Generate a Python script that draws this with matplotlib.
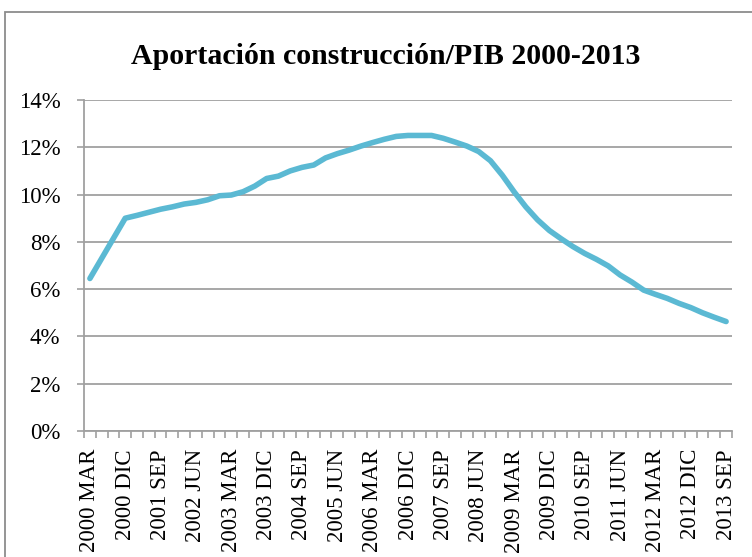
import matplotlib
matplotlib.use("Agg")
import matplotlib.pyplot as plt
from matplotlib.patches import Rectangle
from matplotlib.ticker import FixedLocator, FuncFormatter

quarters = ["MAR", "JUN", "SEP", "DIC"]
categories = [f"{y} {q}" for y in range(2000, 2014) for q in quarters][:55]

values = [6.45, 7.3, 8.15, 9.0, 9.12, 9.25, 9.38, 9.48, 9.6, 9.67, 9.78, 9.95,
          9.98, 10.12, 10.36, 10.68, 10.78, 11.0, 11.15, 11.25, 11.55, 11.73,
          11.88, 12.05, 12.2, 12.34, 12.46, 12.5, 12.5, 12.5, 12.38, 12.22,
          12.05, 11.82, 11.43, 10.82, 10.12, 9.48, 8.93, 8.48, 8.13, 7.8, 7.51,
          7.26, 6.98, 6.6, 6.3, 5.96, 5.78, 5.61, 5.4, 5.22, 5.0, 4.81, 4.63]

title = "Aportación construcción/PIB 2000-2013"
yticks = [0, 2, 4, 6, 8, 10, 12, 14]

plt.rcParams['font.family'] = ['Liberation Serif', 'DejaVu Serif']

fig = plt.figure(figsize=(7.52, 5.57), dpi=100)
fig.patches.append(Rectangle((5/752, -0.1), 2, 1.1 - 12/557,
                             transform=fig.transFigure, fill=False,
                             edgecolor="#8c8c8c", linewidth=1.3))
ax = fig.add_axes([84/752, (557-431)/557, (732-84)/752, (431-100)/557])

x = list(range(len(values)))
ax.plot(x, values, color="#5BB9D3", linewidth=4.0, solid_capstyle="round",
        solid_joinstyle="round", zorder=3)

ax.set_xlim(-0.5, len(values) - 0.5)
ax.set_ylim(0, 14)
ax.set_yticks(yticks)
ax.yaxis.set_major_formatter(FuncFormatter(lambda v, p: f"{int(v)}%"))
ax.grid(axis="y", color="#a0a0a0", linewidth=1.3)
ax.set_axisbelow(True)

label_idx = list(range(0, len(values), 3))
ax.set_xticks(label_idx)
ax.set_xticklabels([categories[i] for i in label_idx], rotation=90, va="top", ha="center")
ax.xaxis.set_minor_locator(FixedLocator([i - 0.5 for i in range(len(values) + 1)]))
ax.tick_params(axis="x", which="major", length=0, pad=13, labelsize=16.5)
ax.tick_params(axis="x", which="minor", length=5, width=1.2, color="#a0a0a0")
ax.tick_params(axis="y", which="major", length=5, width=1.2, color="#a0a0a0",
               pad=12, labelsize=16.5)

for s in ["top", "right"]:
    ax.spines[s].set_visible(False)
for s in ["left", "bottom"]:
    ax.spines[s].set_color("#a0a0a0")
    ax.spines[s].set_linewidth(1.3)

fig.text(386/752, 1 - 57/557, title, ha="center", va="center",
         fontsize=21.5, fontweight="bold")

fig.savefig("out.png", dpi=100)
